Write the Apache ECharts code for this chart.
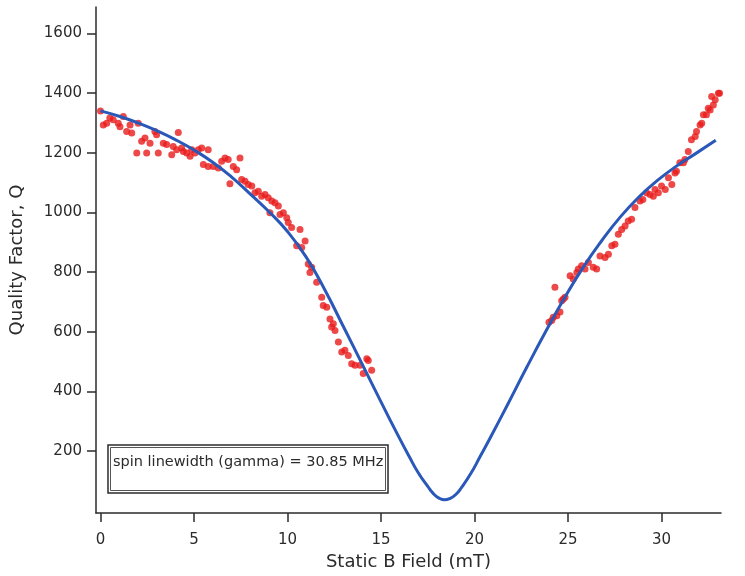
<!DOCTYPE html>
<html>
<head>
<meta charset="utf-8">
<script src="https://cdn.jsdelivr.net/npm/echarts@6/dist/echarts.min.js"></script>
<style>
  html, body { margin: 0; padding: 0; background: #fff; }
  #chart { width: 745px; height: 576px; }
</style>
</head>
<body>
<div id="chart"></div>
<script>
// Measured quality factor vs static field: low-field branch [B (mT), Q]
const measuredLow = [
  [0,1340],[0.15,1293],[0.33,1299],[0.5,1316],[0.68,1310],[0.95,1299],[1.04,1287],[1.22,1321],
  [1.4,1271],[1.58,1293],[1.67,1266],[1.94,1199],[2.02,1299],[2.2,1238],[2.38,1249],[2.47,1199],
  [2.65,1232],[2.91,1271],[3.0,1260],[3.09,1199],[3.36,1232],[3.54,1227],[3.81,1193],[3.89,1221],
  [4.07,1210],[4.16,1268],[4.34,1216],[4.43,1204],[4.61,1199],[4.79,1188],[4.88,1210],[5.05,1199],
  [5.23,1210],[5.41,1216],[5.5,1160],[5.76,1210],[5.76,1154],[6.03,1154],[6.3,1149],[6.48,1171],
  [6.66,1182],[6.83,1177],[6.92,1096],[7.1,1154],[7.28,1143],[7.46,1182],[7.55,1110],[7.73,1104],
  [7.9,1093],[8.09,1088],[8.26,1066],[8.44,1071],[8.62,1054],[8.8,1060],[8.97,1049],[9.06,999],
  [9.16,1038],[9.33,1032],[9.51,1021],[9.6,993],[9.78,999],[9.96,982],[10.04,966],[10.22,949],
  [10.49,888],[10.67,943],[10.76,882],[10.94,904],[11.11,827],[11.2,799],[11.29,816],[11.56,766],
  [11.83,716],[11.91,688],[12.1,682],[12.27,643],[12.36,616],[12.45,627],[12.54,604],[12.72,566],
  [12.9,532],[13.07,538],[13.25,521],[13.43,493],[13.61,488],[13.88,488],[14.05,460],[14.24,510],
  [14.32,504],[14.5,471]
];

// Measured quality factor: high-field branch [B (mT), Q]
const measuredHigh = [
  [23.98,632],[24.13,638],[24.21,649],[24.3,749],[24.4,654],[24.57,666],[24.66,704],[24.75,710],
  [24.84,716],[25.11,788],[25.28,777],[25.47,799],[25.55,810],[25.73,821],[25.91,810],[26.09,832],
  [26.35,816],[26.53,810],[26.71,854],[26.98,849],[27.16,860],[27.34,888],[27.51,893],[27.69,927],
  [27.87,943],[28.05,954],[28.22,971],[28.4,977],[28.58,1016],[28.85,1038],[29.0,1043],[29.2,1066],
  [29.38,1060],[29.56,1054],[29.65,1077],[29.83,1066],[30.0,1088],[30.2,1077],[30.37,1116],[30.55,1093],
  [30.72,1132],[30.8,1138],[30.98,1166],[31.17,1166],[31.25,1177],[31.43,1204],[31.6,1243],[31.8,1254],
  [31.87,1271],[32.06,1293],[32.15,1299],[32.24,1327],[32.4,1327],[32.5,1349],[32.6,1343],[32.68,1388],
  [32.77,1360],[32.87,1377],[33.04,1399],[33.1,1399]
];

// Fitted curve, sampled values [B (mT), Q]
const fitCurve = [
  [0,1340],[1,1322],[2,1300],[3,1274],[4,1244],[5,1209],[6,1168],[7,1119],[8,1062],[9,1003],
  [10,936],[11,850],[12,740],[13,616],[14,491],[15,365],[16,242],[16.5,183],[17,127],[17.5,82],
  [17.8,58],[18.1,43],[18.4,37],[18.7,42],[19.0,55],[19.3,78],[19.8,125],[20.3,182],[20.8,240],
  [21.8,360],[22.8,482],[23.8,600],[24.8,712],[25.8,815],[26.8,905],[27.8,985],[28.8,1052],
  [29.8,1108],[30.8,1155],[31.8,1196],[32.9,1242]
];

const xTicks = [0, 5, 10, 15, 20, 25, 30];
const yTicks = [200, 400, 600, 800, 1000, 1200, 1400, 1600];
const annotation = 'spin linewidth (gamma) = 30.85 MHz';

const FONT = 'DejaVu Sans';
const INK = '#2b2b2b';

const chart = echarts.init(document.getElementById('chart'), null, { renderer: 'canvas' });

chart.setOption({
  animation: false,
  backgroundColor: '#ffffff',
  grid: { left: 96, right: 24, top: 7, bottom: 61, containLabel: false },
  xAxis: {
    type: 'value',
    min: -0.24,
    max: 33.18,
    name: 'Static B Field (mT)',
    nameLocation: 'middle',
    nameGap: 40,
    nameTextStyle: { fontFamily: FONT, fontSize: 18, color: INK },
    axisLine: { show: true, onZero: false, lineStyle: { color: INK, width: 1.5 } },
    axisTick: { show: true, length: 9, customValues: xTicks, lineStyle: { color: INK, width: 1.5 } },
    axisLabel: {
      customValues: xTicks, margin: 20, fontFamily: FONT, fontSize: 15, color: INK,
      formatter: v => String(v)
    },
    splitLine: { show: false }
  },
  yAxis: {
    type: 'value',
    min: -7,
    max: 1688,
    name: 'Quality Factor, Q',
    nameLocation: 'middle',
    nameGap: 70,
    nameRotate: 90,
    nameTextStyle: { fontFamily: FONT, fontSize: 18, color: INK },
    axisLine: { show: true, onZero: false, lineStyle: { color: INK, width: 1.5 } },
    axisTick: { show: true, length: 9, customValues: yTicks, lineStyle: { color: INK, width: 1.5 } },
    axisLabel: {
      customValues: yTicks, margin: 14, fontFamily: FONT, fontSize: 15, color: INK,
      formatter: v => String(v)
    },
    splitLine: { show: false }
  },
  graphic: [
    {
      type: 'rect', z: 100,
      shape: { x: 108, y: 445, width: 280, height: 48 },
      style: { fill: '#ffffff', stroke: '#2b2b2b', lineWidth: 1.5 }
    },
    {
      type: 'rect', z: 101,
      shape: { x: 110.5, y: 447.5, width: 275, height: 43 },
      style: { fill: 'none', stroke: '#555555', lineWidth: 1 }
    },
    {
      type: 'text', z: 102,
      x: 113, y: 462,
      style: {
        text: annotation,
        fontFamily: FONT, fontSize: 14.5, fill: INK,
        verticalAlign: 'middle', align: 'left'
      }
    }
  ],
  series: [
    {
      type: 'scatter',
      data: measuredLow,
      symbol: 'circle',
      symbolSize: 7,
      itemStyle: { color: '#e81c1c' },
      z: 2
    },
    {
      type: 'scatter',
      data: measuredHigh,
      symbol: 'circle',
      symbolSize: 7,
      itemStyle: { color: '#e81c1c' },
      z: 2
    },
    {
      type: 'line',
      data: fitCurve,
      smooth: 0.5,
      showSymbol: false,
      lineStyle: { color: '#2a58b8', width: 3 },
      z: 3
    }
  ]
});
</script>
</body>
</html>
